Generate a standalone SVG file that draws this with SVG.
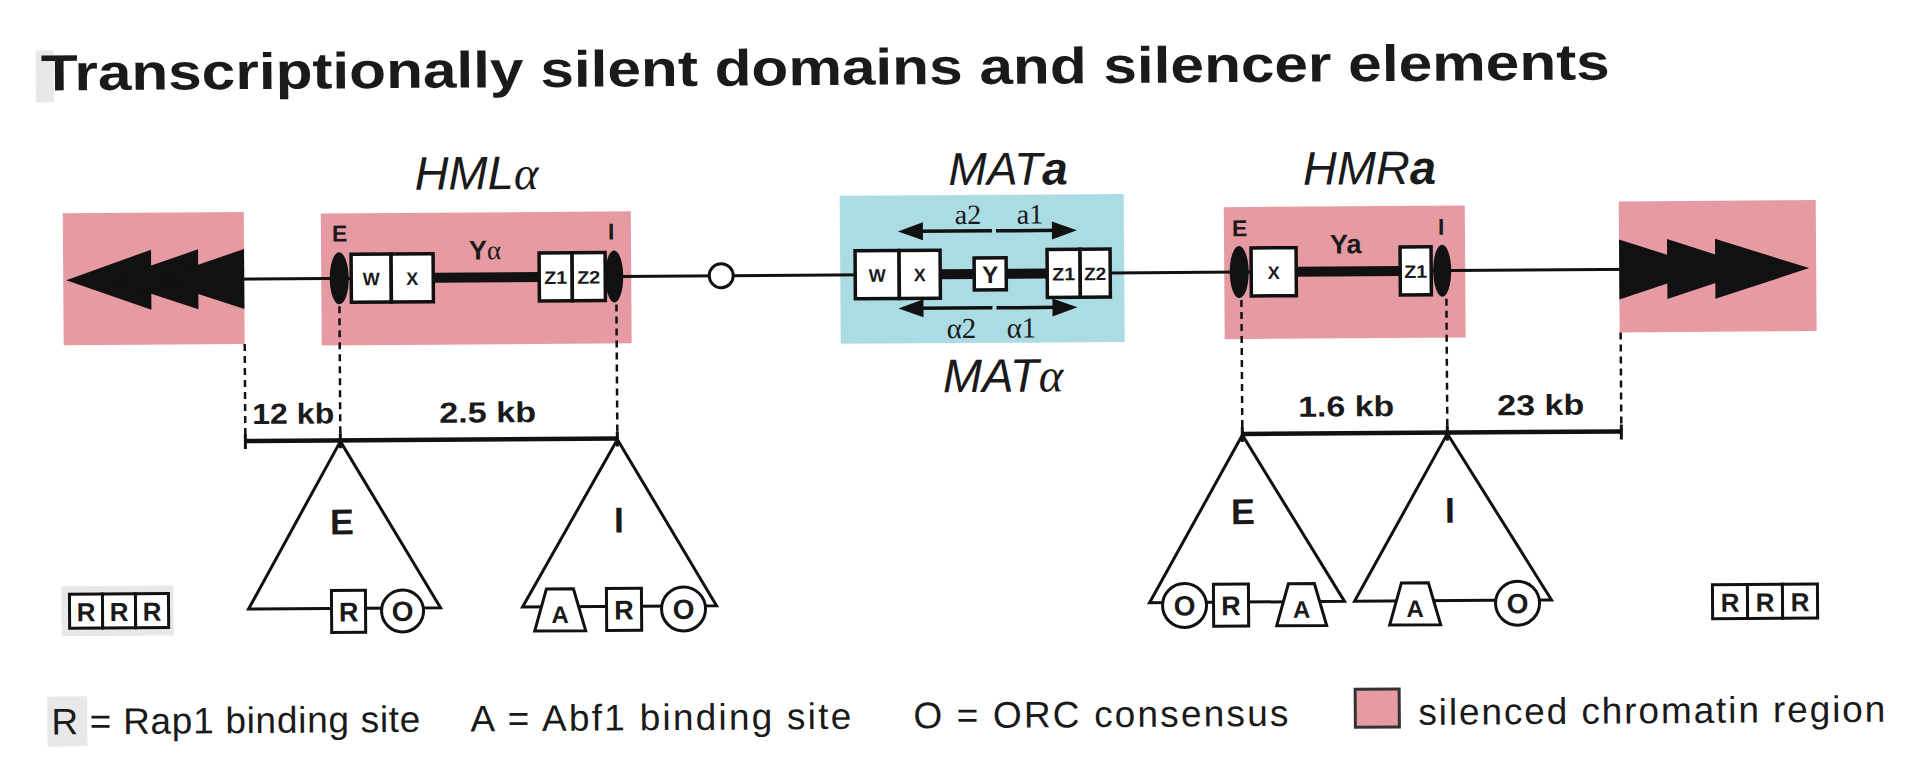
<svg xmlns="http://www.w3.org/2000/svg" width="1930" height="772" viewBox="0 0 1930 772">
<style>
.sans{font-family:"Liberation Sans",Arial,sans-serif;fill:#1a1a1a}
.serif{font-family:"Liberation Serif","Times New Roman",serif;fill:#1a1a1a}
.b{font-weight:bold}
.pink{fill:#e69ba3}
.blue{fill:#abdce4}
.box{fill:#fff;stroke:#111;stroke-width:3.5}
.oval{fill:#111}
.dna{stroke:#111;stroke-width:3;fill:none}
.thick{stroke:#111;stroke-width:10}
.dot{stroke:#111;stroke-width:2.5;stroke-dasharray:7 5;fill:none}
.scale{stroke:#111;stroke-width:4.5;fill:none}
.tick{stroke:#111;stroke-width:3}
.tri{fill:none;stroke:#111;stroke-width:3;stroke-linejoin:miter}
.el{fill:#fff;stroke:#111;stroke-width:3}
.blk{fill:#111}
.grey{fill:#e8e8e8}
</style>
<rect width="1930" height="772" fill="#fff"/>
<g transform="rotate(-0.4 965 386)">
  <rect class="grey" x="38" y="44" width="18" height="52"/>
  <text id="title" class="sans b" x="43" y="84" font-size="51" textLength="1569" lengthAdjust="spacingAndGlyphs">Transcriptionally silent domains and silencer elements</text>

  <!-- left telomere -->
  <g id="telomere-left">
    <rect class="pink" x="64" y="207" width="181" height="132"/>
    <polygon class="blk" points="67,274 152,244 152,304"/>
    <polygon class="blk" points="110,274 199,244 199,304"/>
    <polygon class="blk" points="155,274 245,244 245,304"/>
  </g>

  <!-- right telomere -->
  <g id="telomere-right">
    <rect class="pink" x="1620" y="206" width="197" height="131"/>
  </g>
  <g id="hml-block"><rect class="pink" x="322" y="209" width="310" height="132"/></g>
  <g id="mat-block"><rect class="blue" x="841" y="195" width="284" height="148"/></g>
  <g id="hmr-block"><rect class="pink" x="1225" y="209" width="241" height="132"/></g>

  <g id="connectors">
    <line class="dna" x1="150" y1="274" x2="1720" y2="274"/>
    <line class="thick" x1="434" y1="274" x2="540" y2="274"/>
    <line class="thick" x1="941" y1="274" x2="1048" y2="274"/>
    <line class="thick" x1="1297" y1="274" x2="1401" y2="274"/>
    <!-- dotted drop lines -->
    <line class="dot" x1="245" y1="339" x2="245" y2="436"/>
    <line class="dot" x1="340" y1="302" x2="340" y2="436"/>
    <line class="dot" x1="617" y1="302" x2="617" y2="436"/>
    <line class="dot" x1="1242" y1="302" x2="1242" y2="436"/>
    <line class="dot" x1="1447" y1="302" x2="1447" y2="436"/>
    <line class="dot" x1="1621" y1="337" x2="1621" y2="436"/>
    <!-- scale bars -->
    <line class="scale" x1="245" y1="436" x2="617" y2="436"/>
    <line class="tick" x1="245" y1="429" x2="245" y2="444"/>
    <line class="tick" x1="340" y1="429" x2="340" y2="444"/>
    <line class="tick" x1="617" y1="429" x2="617" y2="444"/>
    <line class="scale" x1="1242" y1="436" x2="1621" y2="436"/>
    <line class="tick" x1="1242" y1="429" x2="1242" y2="444"/>
    <line class="tick" x1="1447" y1="429" x2="1447" y2="444"/>
    <line class="tick" x1="1621" y1="429" x2="1621" y2="444"/>
    <!-- MAT transcript arrows -->
    <line stroke="#111" stroke-width="3.5" x1="993" y1="231" x2="915" y2="231"/>
    <polygon class="blk" points="899,231 924,222 924,240"/>
    <line stroke="#111" stroke-width="3.5" x1="997" y1="231" x2="1062" y2="231"/>
    <polygon class="blk" points="1078,231 1053,222 1053,240"/>
    <line stroke="#111" stroke-width="3.5" x1="993" y1="308" x2="915" y2="308"/>
    <polygon class="blk" points="899,308 924,299 924,317"/>
    <line stroke="#111" stroke-width="3.5" x1="997" y1="308" x2="1062" y2="308"/>
    <polygon class="blk" points="1078,308 1053,299 1053,317"/>
  </g>

  <g id="telomere-right-arrows">
    <polygon class="blk" points="1620,244 1712,274 1620,304"/>
    <polygon class="blk" points="1668,244 1760,274 1668,304"/>
    <polygon class="blk" points="1716,244 1810,274 1716,304"/>
  </g>

  <g id="centromere"><circle cx="722" cy="274" r="12" fill="#fff" stroke="#111" stroke-width="3"/></g>

  <!-- HML -->
  <g id="hml">
    <text class="sans" x="478" y="186" font-size="47" font-style="italic" text-anchor="middle">HML<tspan class="serif">α</tspan></text>
    <rect class="box" x="352" y="250" width="40" height="48"/>
    <rect class="box" x="392" y="250" width="42" height="48"/>
    <text class="sans b" x="372" y="281" font-size="18" text-anchor="middle">W</text>
    <text class="sans b" x="413" y="281" font-size="18" text-anchor="middle">X</text>
    <rect class="box" x="540" y="250" width="33" height="48"/>
    <rect class="box" x="573" y="250" width="33" height="48"/>
    <text class="sans b" x="545" y="281" font-size="18" textLength="23" lengthAdjust="spacingAndGlyphs">Z1</text>
    <text class="sans b" x="578" y="281" font-size="18" textLength="23" lengthAdjust="spacingAndGlyphs">Z2</text>
    <ellipse class="oval" cx="340" cy="274" rx="9.5" ry="26"/>
    <ellipse class="oval" cx="615" cy="274" rx="9" ry="26"/>
    <text class="sans b" x="333" y="237" font-size="23">E</text>
    <text class="sans b" x="609" y="237" font-size="23">I</text>
    <text class="sans b" x="470" y="256" font-size="27">Y<tspan class="serif" font-weight="normal">α</tspan></text>
  </g>

  <!-- MAT -->
  <g id="mat">
    <text class="sans" x="950" y="185" font-size="46" font-style="italic">MAT<tspan font-weight="bold">a</tspan></text>
    <rect class="box" x="856" y="250" width="44" height="48"/>
    <rect class="box" x="900" y="250" width="41" height="48"/>
    <text class="sans b" x="878" y="281" font-size="18" text-anchor="middle">W</text>
    <text class="sans b" x="920.5" y="281" font-size="18" text-anchor="middle">X</text>
    <rect class="box" x="975" y="258" width="32" height="32"/>
    <text class="sans b" x="991" y="283" font-size="24" text-anchor="middle">Y</text>
    <rect class="box" x="1048" y="250" width="33" height="48"/>
    <rect class="box" x="1081" y="250" width="30" height="48"/>
    <text class="sans b" x="1053" y="281" font-size="18" textLength="23" lengthAdjust="spacingAndGlyphs">Z1</text>
    <text class="sans b" x="1085" y="281" font-size="18" textLength="22" lengthAdjust="spacingAndGlyphs">Z2</text>
    <text class="serif" x="956" y="224" font-size="28">a2</text>
    <text class="serif" x="1018" y="224" font-size="28">a1</text>
    <text class="serif" x="947" y="338" font-size="29">α2</text>
    <text class="serif" x="1007" y="338" font-size="29">α1</text>
    <text class="sans" x="943" y="392" font-size="47" font-style="italic">MAT<tspan class="serif">α</tspan></text>
  </g>

  <!-- HMR -->
  <g id="hmr">
    <text class="sans" x="1371" y="187" font-size="47" font-style="italic" text-anchor="middle">HMR<tspan font-weight="bold">a</tspan></text>
    <rect class="box" x="1252" y="250" width="45" height="48"/>
    <text class="sans b" x="1274.5" y="281" font-size="18" text-anchor="middle">X</text>
    <rect class="box" x="1401" y="250" width="31" height="48"/>
    <text class="sans b" x="1405" y="281" font-size="18" textLength="23" lengthAdjust="spacingAndGlyphs">Z1</text>
    <ellipse class="oval" cx="1240" cy="274" rx="9.5" ry="26"/>
    <ellipse class="oval" cx="1443" cy="274" rx="9" ry="26"/>
    <text class="sans b" x="1233" y="238" font-size="23">E</text>
    <text class="sans b" x="1439" y="238" font-size="23">I</text>
    <text class="sans b" x="1331" y="256" font-size="27">Ya</text>
  </g>

  <!-- scale labels -->
  <g id="scale-labels">
    <text class="sans b" x="252" y="419" font-size="29" textLength="82" lengthAdjust="spacingAndGlyphs">12 kb</text>
    <text class="sans b" x="439" y="419" font-size="29" textLength="97" lengthAdjust="spacingAndGlyphs">2.5 kb</text>
    <text class="sans b" x="1298" y="419" font-size="29" textLength="96" lengthAdjust="spacingAndGlyphs">1.6 kb</text>
    <text class="sans b" x="1497" y="419" font-size="29" textLength="87" lengthAdjust="spacingAndGlyphs">23 kb</text>
  </g>

  <!-- silencer triangles -->
  <g id="hml-e">
    <polygon class="tri" points="340,437 247,604 439,604"/>
    <text class="sans b" x="341" y="530" font-size="36" text-anchor="middle">E</text>
    <rect class="el" x="330" y="586" width="34" height="42"/>
    <text class="sans b" x="347" y="617" font-size="27" text-anchor="middle">R</text>
    <circle class="el" cx="401" cy="607" r="21"/>
    <text class="sans b" x="401" y="617" font-size="28" text-anchor="middle">O</text>
  </g>
  <g id="hml-i">
    <polygon class="tri" points="617,437 521,604 715,604"/>
    <text class="sans b" x="618" y="530" font-size="36" text-anchor="middle">I</text>
    <polygon class="el" points="545,586 572,586 584,628 533,628"/>
    <text class="sans b" x="558.5" y="620" font-size="24" text-anchor="middle">A</text>
    <rect class="el" x="605" y="586" width="35" height="42"/>
    <text class="sans b" x="622.5" y="617" font-size="27" text-anchor="middle">R</text>
    <circle class="el" cx="682" cy="607" r="22"/>
    <text class="sans b" x="682" y="617" font-size="28" text-anchor="middle">O</text>
  </g>
  <g id="hmr-e">
    <polygon class="tri" points="1242,437 1148,604 1343,604"/>
    <text class="sans b" x="1242" y="526" font-size="36" text-anchor="middle">E</text>
    <circle class="el" cx="1183" cy="607" r="22"/>
    <text class="sans b" x="1183" y="617" font-size="28" text-anchor="middle">O</text>
    <rect class="el" x="1212" y="586" width="35" height="42"/>
    <text class="sans b" x="1229.5" y="617" font-size="27" text-anchor="middle">R</text>
    <polygon class="el" points="1287,586 1313,586 1325,628 1275,628"/>
    <text class="sans b" x="1300" y="620" font-size="24" text-anchor="middle">A</text>
  </g>
  <g id="hmr-i">
    <polygon class="tri" points="1447,437 1353,604 1550,604"/>
    <text class="sans b" x="1449" y="526" font-size="36" text-anchor="middle">I</text>
    <polygon class="el" points="1400,586 1427,586 1439,628 1388,628"/>
    <text class="sans b" x="1413.5" y="620" font-size="24" text-anchor="middle">A</text>
    <circle class="el" cx="1516" cy="607" r="22"/>
    <text class="sans b" x="1516" y="617" font-size="28" text-anchor="middle">O</text>
  </g>

  <!-- RRR telomeric repeats -->
  <g id="rrr-left">
    <rect class="grey" x="60" y="580" width="112" height="50"/>
    <rect class="el" x="68" y="588" width="33" height="34"/>
    <rect class="el" x="101" y="588" width="33" height="34"/>
    <rect class="el" x="134" y="588" width="33" height="34"/>
    <text class="sans b" x="84.5" y="615" font-size="26" text-anchor="middle">R</text>
    <text class="sans b" x="117.5" y="615" font-size="26" text-anchor="middle">R</text>
    <text class="sans b" x="150.5" y="615" font-size="26" text-anchor="middle">R</text>
  </g>
  <g id="rrr-right">
    <rect class="el" x="1711" y="590" width="35" height="34"/>
    <rect class="el" x="1746" y="590" width="35" height="34"/>
    <rect class="el" x="1781" y="590" width="35" height="34"/>
    <text class="sans b" x="1728.5" y="617" font-size="26" text-anchor="middle">R</text>
    <text class="sans b" x="1763.5" y="617" font-size="26" text-anchor="middle">R</text>
    <text class="sans b" x="1798.5" y="617" font-size="26" text-anchor="middle">R</text>
  </g>

  <!-- legend -->
  <g id="legend">
    <rect class="grey" x="45" y="690" width="40" height="50"/>
    <text class="sans" x="49" y="728" font-size="37" textLength="369">R = Rap1 binding site</text>
    <text class="sans" x="468" y="728" font-size="37" textLength="381">A = Abf1 binding site</text>
    <text class="sans" x="911" y="728" font-size="37" textLength="375">O = ORC consensus</text>
    <rect class="pink" x="1353" y="692" width="44" height="38" stroke="#333" stroke-width="3"/>
    <text class="sans" x="1416" y="728" font-size="37" textLength="467">silenced chromatin region</text>
  </g>
</g>
</svg>
